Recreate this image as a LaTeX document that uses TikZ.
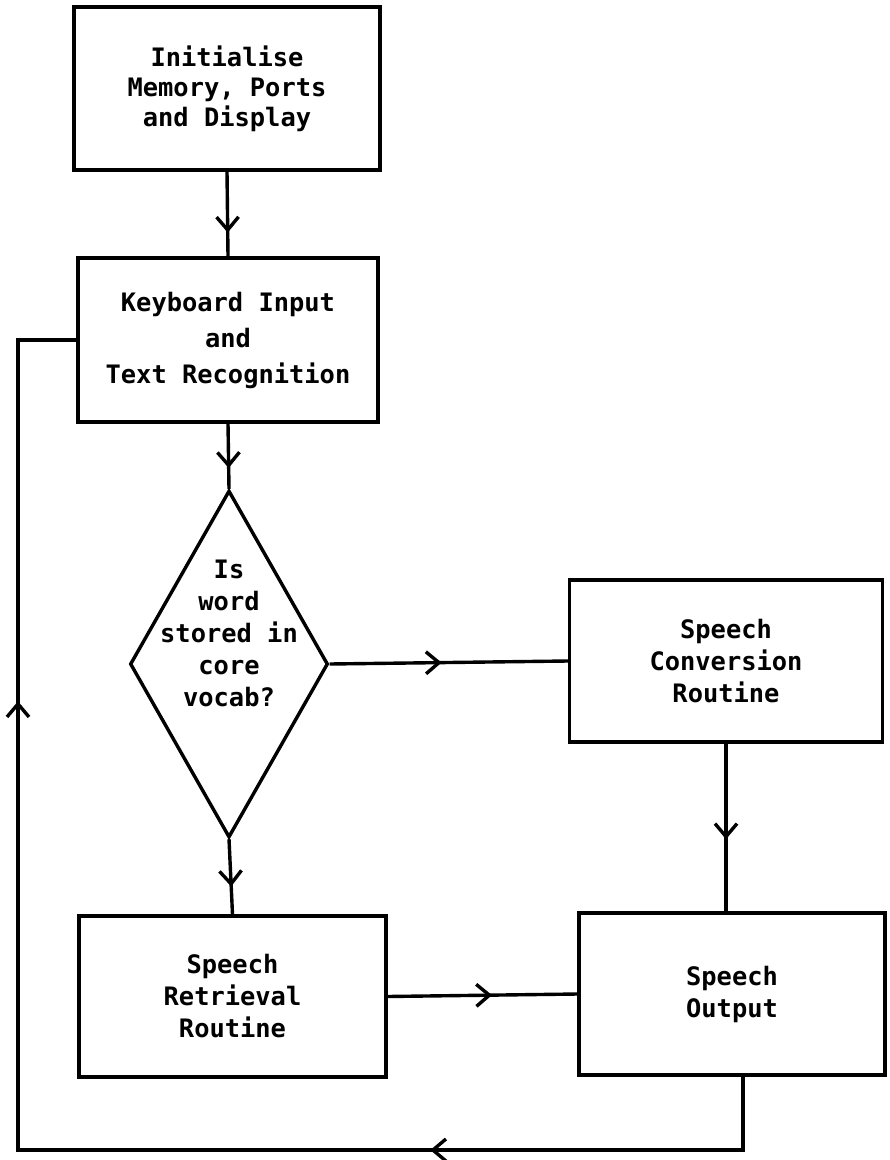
\documentclass[tikz,border=0pt]{standalone}
\usepackage{fontspec}
\setmainfont{DejaVu Sans Mono}
\usetikzlibrary{shapes.geometric,arrows.meta,decorations.markings}
\tikzset{
  barb/.tip={Straight Barb[length=6.5pt,width=11pt]},
  block/.style={draw, line width=1.7pt, rectangle, align=center, font=\bfseries\fontsize{12.7pt}{16pt}\selectfont},
  decision/.style={draw, line width=1.7pt, diamond, minimum width=99pt, minimum height=173.5pt, inner sep=0pt},
  flow/.style={line width=1.7pt, decoration={markings, mark=at position #1 with {\arrow{barb}}}, postaction={decorate}}
}
\begin{document}
\begin{tikzpicture}[x=0.5pt, y=-0.5pt]
  \useasboundingbox (0,0) rectangle (889,1160);
  \node[block, minimum width=153pt, minimum height=81.5pt, font=\bfseries\fontsize{12.7pt}{15pt}\selectfont] (init) at (227,88.5) {Initialise\\Memory, Ports\\and Display};
  \node[block, minimum width=150pt, minimum height=82pt, font=\bfseries\fontsize{12.7pt}{18pt}\selectfont] (keyboard) at (228,340) {Keyboard Input\\and\\Text Recognition};
  \node[decision, label={[font=\bfseries\fontsize{12.7pt}{16pt}\selectfont, align=center, yshift=15.5pt]center:{Is\\word\\stored in\\core\\vocab?}}] (vocab) at (229,664) {};
  \node[block, minimum width=156.5pt, minimum height=81pt] (conversion) at (726,661) {Speech\\Conversion\\Routine};
  \node[block, minimum width=153.5pt, minimum height=80.5pt] (retrieval) at (232.5,996.5) {Speech\\Retrieval\\Routine};
  \node[block, minimum width=153pt, minimum height=81pt] (output) at (732,994) {Speech\\Output};
  \coordinate (loop) at (18,1150);

  \draw[flow=0.72] (init.south) -- (keyboard.north);
  \draw[flow=0.68] (keyboard.south) -- (vocab.north);
  \draw[flow=0.47] (vocab.east) -- (conversion.west);
  \draw[flow=0.57] (conversion.south) -- (conversion.south |- output.north);
  \draw[flow=0.63] (vocab.south) -- (retrieval.north);
  \draw[flow=0.55] (retrieval.east) -- (output.west);
  \draw[line width=1.7pt, decoration={markings, mark=at position 193pt with {\arrow{barb}}, mark=at position 623.5pt with {\arrow{barb}}}, postaction={decorate}]
    ([xshift=5.5pt]output.south) |- (loop) |- (keyboard.west);
\end{tikzpicture}
\end{document}
